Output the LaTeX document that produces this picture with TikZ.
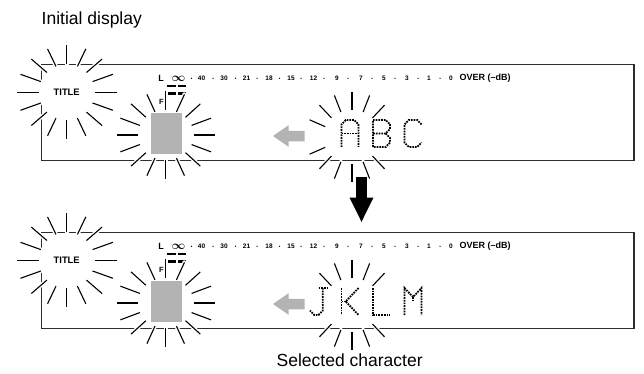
\documentclass[tikz,border=0pt]{standalone}
\usepackage{amsmath,bm}
\usepackage{fontspec}
\setmainfont{Liberation Sans}
\usetikzlibrary{arrows.meta}
\definecolor{framegray}{RGB}{45,45,45}
\definecolor{lcdgray}{RGB}{179,179,179}
\tikzset{
  display/.style={draw=framegray,line width=1.4pt,minimum width=592.5pt,
                  minimum height=96.2pt,inner sep=0pt},
  ray/.style={line width=1.1pt,preaction={draw=white,line width=4pt,line cap=round}},
  scalelbl/.style={inner sep=0pt,font=\bfseries\fontsize{6.5}{6.5}\selectfont},
  scalebig/.style={inner sep=0pt,font=\bfseries\fontsize{9}{9}\selectfont},
  peakbar/.style={line width=2.6pt},
  cursorbox/.style={fill=lcdgray,inner sep=0pt,minimum width=31.5pt,minimum height=41.5pt},
  dotmatrix/.style={line width=1.8pt,dash pattern=on 1.7pt off 1.0pt},
  downarrow/.style={line width=10.5pt,-{Triangle[width=22pt,length=25pt]}},
  caption/.style={anchor=base west,inner sep=0pt,font=\fontsize{17.5}{17.5}\selectfont},
}

\begin{document}
\begin{tikzpicture}[x=1pt,y=-1pt]
  \useasboundingbox (0,0) rectangle (644,374);

  \node[caption] (initial) at (41.5,25) {Initial display};

  % the two display panels
  \foreach \row/\dy in {1/0,2/168}{
    \begin{scope}[shift={(0,\dy)}]
      \node[display] (disp\row) at (337.75,112.4) {};
      % level meter scale
      \node[scalebig] (l\row) at (161,78) {L};
      \node[inner sep=0pt] (inf\row) at (178.5,78.5)
        {\fontsize{13}{13}\selectfont$\boldsymbol{\infty}$};
      \foreach \v/\x in {40/201.5,30/224,21/246.5,18/269,15/291,12/313.5,
                         9/337,7/361,5/384,3/407,1/429,0/451}
        \node[scalelbl] (s\row-\v) at (\x,78) {\v};
      \foreach \x in {191.5,213,235.5,257,279.5,301,324,348,372,395,418,440}
        \fill (\x,78.3) circle (0.7);
      \node[scalebig,anchor=west] (over\row) at (459.5,78) {OVER (–dB)};
      \draw[peakbar] (166.5,86) -- (175.5,86) (177.5,86) -- (186,86);
      \draw[peakbar] (168,93.5) -- (175.5,93.5) (178,93.5) -- (186,93.5);
      \node[inner sep=0pt,font=\bfseries\fontsize{7.5}{7.5}\selectfont] (f\row) at (161.5,101.5) {F};
      % TITLE burst
      \fill[white] (66.7,92.3) ellipse [x radius=27.5, y radius=26];
      \begin{scope}[shift={(66.7,92.3)}]
        \foreach \a in {0,22.5,...,337.5}
          \draw[ray] ({28*sin(\a)},{-28*cos(\a)}) -- ({50*sin(\a)},{-47*cos(\a)});
      \end{scope}
      \node[inner sep=0pt,font=\bfseries\fontsize{9.4}{9.4}\selectfont] (title\row) at (66.7,92.5) {TITLE};
      % blinking cursor
      \begin{scope}[shift={(165.7,135)}]
        \foreach \a in {0,22.5,...,337.5}
          \draw[ray] ({28*sin(\a)},{-25*cos(\a)}) -- ({49*sin(\a)},{-44*cos(\a)});
      \end{scope}
      \node[cursorbox] (cursor\row) at (166.7,133.6) {};
      % shift arrow
      \fill[lcdgray] (273,136) -- (288.5,125.2) -- (288.5,130.8) -- (304.5,130.8)
        -- (304.5,141.3) -- (288.5,141.3) -- (288.5,146.8) -- cycle;
    \end{scope}
  }

  % A B C
  \begin{scope}[shift={(352,137)}]
    \foreach \a in {0,22.5,45,135,157.5,180,202.5,225,247.5,292.5,315,337.5}
      \draw[ray] ({29*sin(\a)},{-27*cos(\a)}) -- ({46*sin(\a)},{-45*cos(\a)});
  \end{scope}
  \begin{scope}[shift={(341.5,120)},x=4.25pt,y=-4.5pt]
    \draw[dotmatrix] (0,6) -- (0,1) -- (1,0) -- (3,0) -- (4,1) -- (4,6);
    \draw[dotmatrix] (0,3) -- (4,3);
  \end{scope}
  \begin{scope}[shift={(373,120)},x=4.25pt,y=-4.5pt]
    \draw[dotmatrix] (0,0) -- (3,0) -- (4,1) -- (4,2) -- (3,3) -- (0,3);
    \draw[dotmatrix] (3,3) -- (4,4) -- (4,5) -- (3,6) -- (0,6) -- (0,0);
  \end{scope}
  \begin{scope}[shift={(404.5,120)},x=4.25pt,y=-4.5pt]
    \draw[dotmatrix] (4,1) -- (3,0) -- (1,0) -- (0,1) -- (0,5) -- (1,6) -- (3,6) -- (4,5);
  \end{scope}

  % J K L M
  \begin{scope}[shift={(352,305)}]
    \foreach \a in {0,22.5,45,135,157.5,180,202.5,225,315,337.5}
      \draw[ray] ({29*sin(\a)},{-27*cos(\a)}) -- ({46*sin(\a)},{-45*cos(\a)});
  \end{scope}
  \begin{scope}[shift={(310,288)},x=4.25pt,y=-4.5pt]
    \draw[dotmatrix] (2,0) -- (4,0);
    \draw[dotmatrix] (3,0) -- (3,5) -- (2,6) -- (1,6) -- (0,5);
  \end{scope}
  \begin{scope}[shift={(341.5,288)},x=4.25pt,y=-4.5pt]
    \draw[dotmatrix] (0,0) -- (0,6);
    \draw[dotmatrix] (4,0) -- (1,3) -- (4,6);
    \draw[dotmatrix] (0,3) -- (1,3);
  \end{scope}
  \begin{scope}[shift={(373,288)},x=4.25pt,y=-4.5pt]
    \draw[dotmatrix] (0,0) -- (0,6) -- (4,6);
  \end{scope}
  \begin{scope}[shift={(404.5,288)},x=4.25pt,y=-4.5pt]
    \draw[dotmatrix] (0,6) -- (0,0) -- (2,2) -- (4,0) -- (4,6);
    \draw[dotmatrix] (2,2) -- (2,3);
  \end{scope}

  % step arrow
  \coordinate (arrowtop) at (361.5,177);
  \coordinate (arrowtip) at (361.5,222.5);
  \draw[downarrow] (arrowtop) -- (arrowtip);

  \node[caption] (selected) at (276.5,366) {Selected character};
\end{tikzpicture}
\end{document}
